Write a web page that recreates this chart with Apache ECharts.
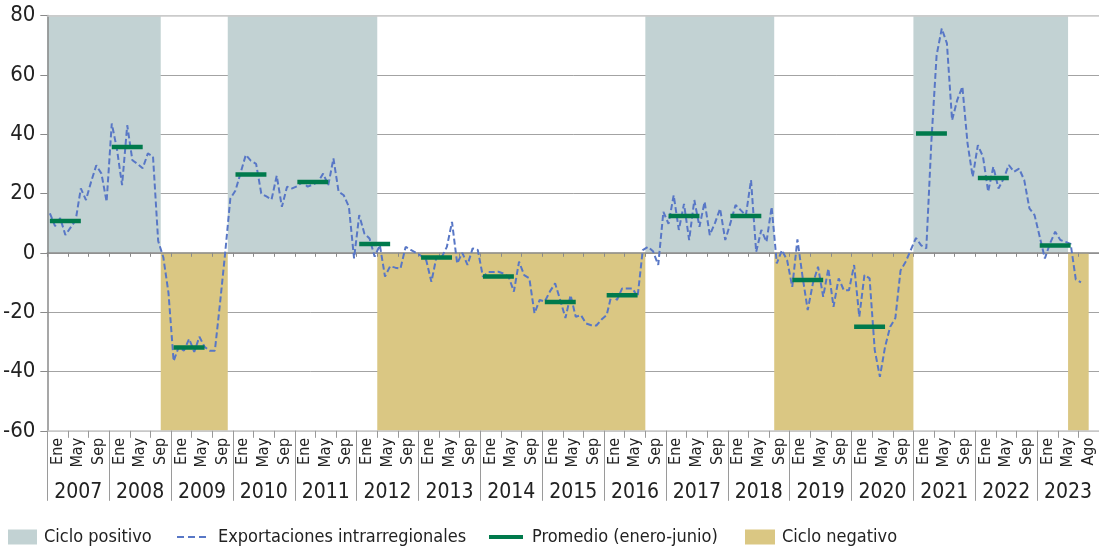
<!DOCTYPE html>
<html>
<head>
<meta charset="utf-8">
<script src="https://cdn.jsdelivr.net/npm/echarts@6/dist/echarts.min.js"></script>
<style>
  html, body { margin: 0; padding: 0; background: #fff; }
  #chart { width: 1099px; height: 554px; }
</style>
</head>
<body>
<div id="chart"></div>
<script>
// Years shown on the lower category level
const years = ['2007','2008','2009','2010','2011','2012','2013','2014','2015','2016',
               '2017','2018','2019','2020','2021','2022','2023'];
// Month group labels (one every four months)
const monthGroupLabels = ['Ene', 'May', 'Sep'];
const monthGroupLabelsLastYear = ['Ene', 'May', 'Ago'];

// Exportaciones intrarregionales, monthly year-on-year change (%), Jan 2007 onward
const exportaciones = [
  13.3, 9, 11.7, 6, 8.5, 11, 21.7, 17.8, 24, 29.5, 26.7, 17.2,            // 2007
  43.6, 35, 22.8, 43, 31.2, 30, 28.5, 33.5, 32.5, 4, -1.5, -13.5,          // 2008
  -36.5, -31.7, -33, -29, -33.4, -28.3, -31.7, -33, -33, -17, 0, 18.3,     // 2009
  21, 27, 33, 31, 30, 20, 19, 18, 26, 15.5, 22.3, 21.7,                    // 2010
  22.5, 23.9, 22.3, 23, 23.9, 26.7, 22.8, 31.8, 20.6, 19.4, 15.5, -1.9,    // 2011
  12.7, 6.5, 4.8, -1.3, 2.6, -8, -4.5, -5, -5.3, 2, 1, 0,                  // 2012
  -1, -2.5, -9.8, -1.3, -1.5, 2, 10.4, -3.6, 0, -4.1, 1.5, 1,              // 2013
  -8.1, -6.5, -6.5, -6.4, -7, -8.1, -13.1, -3, -7.5, -8.6, -20.4, -15.9,   // 2014
  -16.4, -13, -10.3, -16, -22, -14.3, -21.6, -21, -23.8, -24.4, -24.5, -22.5, // 2015
  -21, -13.7, -15.9, -12, -12, -12, -14.8, 0.9, 2, 0.5, -4.1, 13.8,        // 2016
  9.8, 19.4, 7.7, 16.5, 4.3, 17.8, 8.8, 17.2, 6, 10, 14.9, 4.3,            // 2017
  10, 16.1, 14.4, 12.6, 24.5, 0.3, 7.7, 3.7, 15.5, -3.6, 0.9, -2.5,        // 2018
  -11.5, 4.5, -8.1, -19.3, -10.3, -4.7, -14.8, -5.3, -18.2, -8.6, -12.6, -12.6, // 2019
  -4.1, -21.6, -7.5, -8.6, -32.8, -41.8, -31.7, -24.9, -22, -6, -3, 1,     // 2020
  5, 2.5, 1.5, 38, 66.6, 75.6, 70.6, 44.7, 51.5, 56, 36.9, 25.6,           // 2021
  36.3, 32.4, 20.6, 29, 21.7, 25, 29.6, 27.3, 28.4, 24.5, 15, 12.7,        // 2022
  5.4, -1.9, 3.2, 7.1, 4.3, 3.7, 3, -9, -10                                // 2023
];

// Promedio enero-junio, one value per year
const promedioEneJun = [10.7, 35.7, -31.9, 26.4, 23.9, 3.0, -1.6, -8.0, -16.6,
                        -14.3, 12.4, 12.4, -9.2, -24.9, 40.2, 25.2, 2.5];

// Cycle phases, first and last month of each
const cicloPositivo = [['2007-01','2008-10'], ['2009-12','2012-04'],
                       ['2016-09','2018-09'], ['2021-01','2023-06']];
const cicloNegativo = [['2008-11','2009-11'], ['2012-05','2016-08'],
                       ['2018-10','2020-12'], ['2023-07','2023-10']];

const Y_MIN = -60, Y_MAX = 80, Y_STEP = 20;

// ---- derived tables ----
const monthKeys = [];
years.forEach(y => { for (let m = 1; m <= 12; m++) monthKeys.push(y + '-' + String(m).padStart(2, '0')); });
const groupLabels = [];
years.forEach((y, i) => {
  const set = i === years.length - 1 ? monthGroupLabelsLastYear : monthGroupLabels;
  set.forEach(l => groupLabels.push(l));
});

// phase rows: [first month index, last month index, edge value]
const phaseRows = (phases, edge) => phases.map(([a, b]) => [monthKeys.indexOf(a), monthKeys.indexOf(b), edge]);
const exportSeries = monthKeys.map((k, i) => i < exportaciones.length ? exportaciones[i] : '-');
// Average drawn as a short bar across the January–June block of each year
const promedioSeries = monthKeys.map((k, i) => {
  const yi = Math.floor(i / 12), m = i % 12;
  return (m <= 6 && yi < promedioEneJun.length) ? promedioEneJun[yi] : '-';
});

// Shaded band from the zero line to the plot edge, covering whole months
function renderPhase(params, api) {
  const half = api.size([1, 0])[0] / 2;
  const p0 = api.coord([api.value(0), 0]);
  const p1 = api.coord([api.value(1), api.value(2)]);
  const x0 = p0[0] - half, x1 = p1[0] + half;
  const yTop = Math.min(p0[1], p1[1]), yBot = Math.max(p0[1], p1[1]);
  return {
    type: 'rect',
    shape: { x: x0, y: yTop, width: x1 - x0, height: yBot - yTop },
    style: { fill: api.visual('color') }
  };
}

const FONT = "'Liberation Sans Narrow', 'DejaVu Sans Condensed', 'Roboto Condensed', 'Noto Sans', sans-serif";
const TXT = '#222';
const BLUE = '#5877c6', GREEN = '#007a4c', GREY = '#c2d2d3', TAN = '#dac783';

const chart = echarts.init(document.getElementById('chart'), null, { renderer: 'canvas' });

const legendText = { fontSize: 18, color: TXT, fontFamily: FONT };
const LEGEND_TOP = 528;

chart.setOption({
  animation: false,
  textStyle: { fontFamily: FONT, color: TXT },
  grid: { left: 46.5, top: 15.5, width: 1056.7, height: 415.3 },
  legend: [
    { data: ['Ciclo positivo'], left: 8, top: LEGEND_TOP, padding: 0, itemWidth: 29, itemHeight: 15,
      icon: 'rect', textStyle: Object.assign({ padding: [0, 0, 0, 2] }, legendText) },
    { data: [{ name: 'Exportaciones intrarregionales',
               icon: 'path://M0,0h7v2h-7z M11,0h7v2h-7z M22,0h7v2h-7z' }],
      left: 177, top: LEGEND_TOP, padding: 0, itemWidth: 29, itemHeight: 2,
      textStyle: Object.assign({ padding: [0, 0, 0, 7] }, legendText) },
    { data: [{ name: 'Promedio (enero-junio)', icon: 'rect' }],
      left: 489, top: LEGEND_TOP, padding: 0, itemWidth: 34, itemHeight: 4,
      textStyle: Object.assign({ padding: [0, 0, 0, 4] }, legendText) },
    { data: ['Ciclo negativo'], left: 745, top: LEGEND_TOP, padding: 0, itemWidth: 30, itemHeight: 15,
      icon: 'rect', textStyle: Object.assign({ padding: [0, 0, 0, 2] }, legendText) }
  ],
  xAxis: [
    { // monthly axis, drawn on the zero line
      type: 'category', data: monthKeys, boundaryGap: true, z: 5,
      axisLine: { onZero: true, lineStyle: { color: '#8a8a8a', width: 1.5 } },
      axisTick: { show: true, length: 4, interval: (i) => i % 4 === 0, lineStyle: { color: '#8a8a8a' } },
      axisLabel: { show: false }, splitLine: { show: false }
    },
    { // month groups along the bottom edge
      type: 'category', data: groupLabels, boundaryGap: true, position: 'bottom', z: 5,
      axisLine: { onZero: false, lineStyle: { color: '#c8c8c8', width: 1.5 } },
      axisTick: { show: true, length: 7, interval: 0, lineStyle: { color: '#999' } },
      axisLabel: { interval: 0, rotate: 90, fontSize: 16, margin: 7, color: TXT, fontFamily: FONT },
      splitLine: { show: false }
    },
    { // years
      type: 'category', data: years, boundaryGap: true, position: 'bottom', z: 5,
      axisLine: { show: false, onZero: false },
      axisTick: { show: true, length: 70, interval: 0, lineStyle: { color: '#9a9a9a' } },
      axisLabel: { interval: 0, fontSize: 21, margin: 51, color: TXT, fontFamily: FONT },
      splitLine: { show: false }
    },
    { // frame line on top
      type: 'category', data: years, position: 'top', z: 5,
      axisLine: { onZero: false, lineStyle: { color: '#cbcbcb', width: 1.5 } },
      axisTick: { show: false }, axisLabel: { show: false }, splitLine: { show: false }
    }
  ],
  yAxis: [
    {
      type: 'value', min: Y_MIN, max: Y_MAX, interval: Y_STEP,
      axisLine: { show: false }, axisTick: { show: false },
      axisLabel: { fontSize: 22, margin: 12, color: TXT, fontFamily: FONT },
      splitLine: { show: true, lineStyle: { width: 1,
        color: ['#cbcbcb', '#a3a3a3', '#a3a3a3', '#a3a3a3', '#a3a3a3', '#a3a3a3', '#a3a3a3', '#cbcbcb'] } }
    },
    {
      type: 'value', min: Y_MIN, max: Y_MAX, interval: Y_STEP, position: 'left', z: 5,
      axisLine: { show: true, lineStyle: { color: '#8a8a8a', width: 1.5 } },
      axisTick: { show: true, length: 7, lineStyle: { color: '#8a8a8a' } },
      axisLabel: { show: false }, splitLine: { show: false }
    }
  ],
  series: [
    { name: 'Ciclo positivo', type: 'custom', xAxisIndex: 0, yAxisIndex: 0, silent: true,
      data: phaseRows(cicloPositivo, Y_MAX), renderItem: renderPhase,
      encode: { x: [0, 1], y: 2 }, itemStyle: { color: GREY }, z: 2 },
    { name: 'Ciclo negativo', type: 'custom', xAxisIndex: 0, yAxisIndex: 0, silent: true,
      data: phaseRows(cicloNegativo, Y_MIN), renderItem: renderPhase,
      encode: { x: [0, 1], y: 2 }, itemStyle: { color: TAN }, z: 2 },
    { name: 'Exportaciones intrarregionales', type: 'line', xAxisIndex: 0, yAxisIndex: 0,
      data: exportSeries, symbol: 'none', z: 6, connectNulls: false,
      itemStyle: { color: BLUE },
      lineStyle: { color: BLUE, width: 2, type: [6, 3] } },
    { name: 'Promedio (enero-junio)', type: 'line', xAxisIndex: 0, yAxisIndex: 0,
      data: promedioSeries, symbol: 'none', z: 7, connectNulls: false,
      itemStyle: { color: GREEN },
      lineStyle: { color: GREEN, width: 4.5, cap: 'butt' } }
  ]
});
</script>
</body>
</html>
